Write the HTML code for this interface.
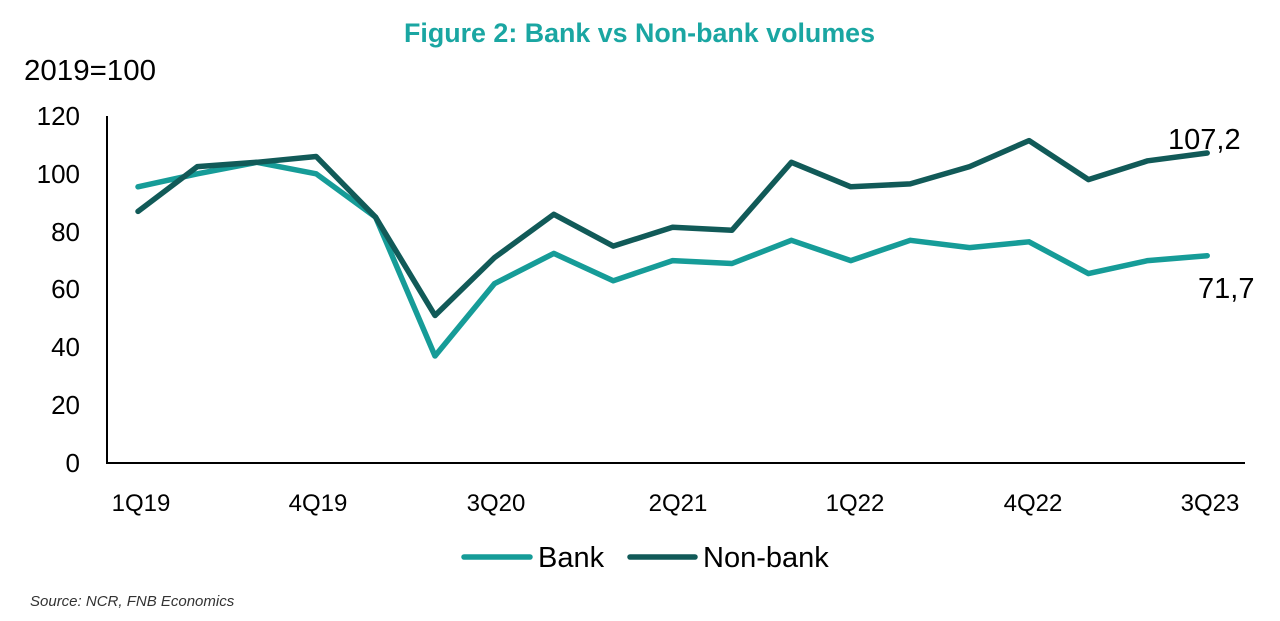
<!DOCTYPE html>
<html><head><meta charset="utf-8"><style>
html,body{margin:0;padding:0;background:#fff;width:1280px;height:621px;overflow:hidden}
</style></head><body>
<svg width="1280" height="621" viewBox="0 0 1280 621" xmlns="http://www.w3.org/2000/svg" font-family="'Liberation Sans', sans-serif">
<text x="404" y="42" font-family="'Liberation Sans Narrow','Liberation Sans',sans-serif" font-weight="bold" font-size="27" fill="#1aa6a2" textLength="471" lengthAdjust="spacingAndGlyphs">Figure 2: Bank vs Non-bank volumes</text>
<text x="24" y="80" font-size="29" fill="#000" textLength="132" lengthAdjust="spacingAndGlyphs">2019=100</text>
<g font-size="26" fill="#000" text-anchor="end">
<text x="80" y="125">120</text>
<text x="80" y="183">100</text>
<text x="80" y="241">80</text>
<text x="80" y="298">60</text>
<text x="80" y="356">40</text>
<text x="80" y="414">20</text>
<text x="80" y="472">0</text>
</g>
<line x1="107" y1="116" x2="107" y2="464" stroke="#000" stroke-width="2"/>
<line x1="106" y1="463" x2="1245" y2="463" stroke="#000" stroke-width="2"/>
<g font-size="24" fill="#000" text-anchor="middle">
<text x="141" y="511">1Q19</text>
<text x="318" y="511">4Q19</text>
<text x="496" y="511">3Q20</text>
<text x="678" y="511">2Q21</text>
<text x="855" y="511">1Q22</text>
<text x="1033" y="511">4Q22</text>
<text x="1210" y="511">3Q23</text>
</g>
<polyline fill="none" stroke="#169c98" stroke-width="5.5" stroke-linejoin="round" stroke-linecap="round"
points="138,186.8 197.4,173.8 256.8,162.3 316.2,173.8 375.6,217.2 435,356 494.4,283.7 553.8,253.4 613.2,280.8 672.6,260.6 732,263.5 791.4,240.3 850.8,260.6 910.2,240.3 969.6,247.6 1029,241.8 1088.4,273.6 1147.8,260.6 1207.2,255.7"/>
<polyline fill="none" stroke="#115a58" stroke-width="5.5" stroke-linejoin="round" stroke-linecap="round"
points="138,211.4 197.4,166.6 256.8,162.3 316.2,156.5 375.6,217.2 435,315.5 494.4,257.7 553.8,214.3 613.2,246.1 672.6,227.3 732,230.2 791.4,162.3 850.8,186.8 910.2,183.9 969.6,166.6 1029,140.6 1088.4,179.6 1147.8,160.8 1207.2,153"/>
<text x="1168" y="149" font-size="29" fill="#000">107,2</text>
<text x="1198" y="298" font-size="29" fill="#000">71,7</text>
<line x1="464" y1="557" x2="530" y2="557" stroke="#169c98" stroke-width="5.5" stroke-linecap="round"/>
<text x="538" y="567" font-size="29" fill="#000">Bank</text>
<line x1="630" y1="557" x2="695" y2="557" stroke="#115a58" stroke-width="5.5" stroke-linecap="round"/>
<text x="703" y="567" font-size="29" fill="#000">Non-bank</text>
<text x="30" y="606" font-size="15" font-style="italic" fill="#333">Source: NCR, FNB Economics</text>
</svg>
</body></html>
